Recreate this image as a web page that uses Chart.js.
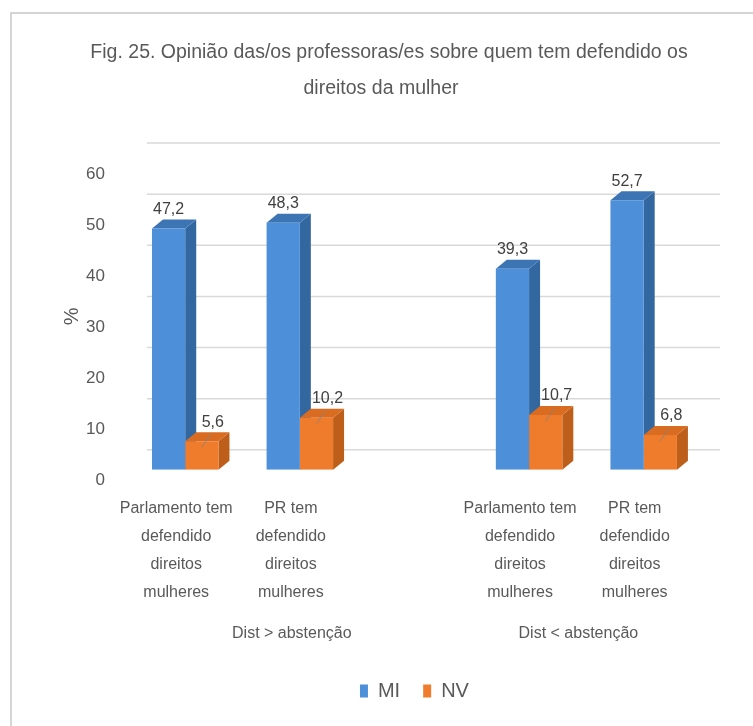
<!DOCTYPE html>
<html>
<head>
<meta charset="utf-8">
<script src="https://cdn.jsdelivr.net/npm/chart.js@4/dist/chart.umd.min.js"></script>
<style>
  html, body { margin: 0; padding: 0; background: #fff; }
</style>
</head>
<body>
<canvas id="chart" width="753" height="726"></canvas>
<script>
const titleLines = ['Fig. 25. Opinião das/os professoras/es sobre quem tem defendido os', 'direitos da mulher']
const categories = [
    ['Parlamento tem', 'defendido', 'direitos', 'mulheres'],
    ['PR tem', 'defendido', 'direitos', 'mulheres'],
    '',
    ['Parlamento tem', 'defendido', 'direitos', 'mulheres'],
    ['PR tem', 'defendido', 'direitos', 'mulheres']
]
const groups = ['Dist > abstenção', 'Dist < abstenção']
const groupPositions = [1, 3.5]
const miValues = [47.2, 48.3, null, 39.3, 52.7]
const nvValues = [5.6, 10.2, null, 10.7, 6.8]
const yTicks = [0, 10, 20, 30, 40, 50, 60]

const FONT = "'Liberation Sans', Arial, sans-serif"
const TEXT = '#595959'
const DX = 11, DY = 9

// side and top colours per dataset
const faces = [
    { side: '#33679f', top: '#3d74b3' },
    { side: '#bd5e1a', top: '#d96c20' }
]

// outer frame + title
const framePlugin = {
    id: 'frame',
    beforeDraw(chart) {
        const ctx = chart.ctx
        ctx.save()
        ctx.strokeStyle = '#c8c8c8'
        ctx.lineWidth = 1.5
        ctx.beginPath()
        ctx.moveTo(11, 726)
        ctx.lineTo(11, 13)
        ctx.lineTo(753, 13)
        ctx.stroke()
        ctx.font = '19.5px ' + FONT
        ctx.fillStyle = TEXT
        ctx.textAlign = 'center'
        ctx.textBaseline = 'middle'
        ctx.fillText(titleLines[0], 389, 53)
        ctx.fillText(titleLines[1], 381, 89)
        ctx.restore()
    }
}

// back wall gridlines and 3D sides/tops of the bars
const depthPlugin = {
    id: 'depth',
    beforeDatasetsDraw(chart) {
        const ctx = chart.ctx
        const y = chart.scales.y
        const area = chart.chartArea
        ctx.save()
        ctx.strokeStyle = '#d9d9d9'
        ctx.lineWidth = 1.5
        yTicks.forEach(function(v) {
            const py = y.getPixelForValue(v) - 20
            ctx.beginPath()
            ctx.moveTo(area.left + 19, py)
            ctx.lineTo(area.right + 19, py)
            ctx.stroke()
        })
        chart.data.datasets.forEach(function(ds, d) {
            const meta = chart.getDatasetMeta(d)
            meta.data.forEach(function(bar, i) {
                if (ds.data[i] == null) return
                const l = bar.x - bar.width / 2
                const r = bar.x + bar.width / 2
                ctx.fillStyle = faces[d].side
                ctx.beginPath()
                ctx.moveTo(r, bar.y)
                ctx.lineTo(r + DX, bar.y - DY)
                ctx.lineTo(r + DX, bar.base - DY)
                ctx.lineTo(r, bar.base)
                ctx.closePath()
                ctx.fill()
                ctx.fillStyle = faces[d].top
                ctx.beginPath()
                ctx.moveTo(l, bar.y)
                ctx.lineTo(l + DX, bar.y - DY)
                ctx.lineTo(r + DX, bar.y - DY)
                ctx.lineTo(r, bar.y)
                ctx.closePath()
                ctx.fill()
            })
        })
        ctx.restore()
    },
    afterDatasetsDraw(chart) {
        const ctx = chart.ctx
        ctx.save()
        ctx.font = '16px ' + FONT
        ctx.fillStyle = '#404040'
        ctx.textAlign = 'center'
        ctx.textBaseline = 'middle'
        chart.data.datasets.forEach(function(ds, d) {
            const meta = chart.getDatasetMeta(d)
            meta.data.forEach(function(bar, i) {
                const v = ds.data[i]
                if (v == null) return
                const txt = v.toFixed(1).replace('.', ',')
                if (d == 0) {
                    ctx.fillText(txt, bar.x, bar.y - 19)
                } else {
                    ctx.strokeStyle = 'rgba(130,130,130,0.8)'
                    ctx.lineWidth = 1
                    ctx.beginPath()
                    ctx.moveTo(bar.x, bar.y + 6)
                    ctx.lineTo(bar.x + 9, bar.y - 7)
                    ctx.stroke()
                    ctx.fillText(txt, bar.x + 11, bar.y - 19)
                }
            })
        })
        ctx.restore()
    }
}

var ctx = document.getElementById('chart')
new Chart(ctx, {
    type: 'bar',
    data: {
        labels: categories,
        datasets: [
            {
                label: 'MI',
                data: miValues,
                backgroundColor: '#4d8fd9',
                borderWidth: 0,
                categoryPercentage: 0.58,
                barPercentage: 1
            },
            {
                label: 'NV',
                data: nvValues,
                backgroundColor: '#ef7c2c',
                borderWidth: 0,
                categoryPercentage: 0.58,
                barPercentage: 1
            }
        ]
    },
    plugins: [framePlugin, depthPlugin],
    options: {
        responsive: false,
        animation: false,
        layout: {
            padding: { top: 163, left: 10, right: 52, bottom: 15 }
        },
        scales: {
            x: {
                type: 'category',
                offset: true,
                weight: 0,
                grid: { display: false },
                border: { display: false },
                ticks: {
                    font: { family: FONT, size: 16, lineHeight: 1.75 },
                    color: TEXT,
                    maxRotation: 0,
                    autoSkip: false,
                    labelOffset: -9,
                    padding: 17
                }
            },
            x2: {
                type: 'linear',
                position: 'bottom',
                weight: 1,
                offset: false,
                min: -0.5,
                max: 4.5,
                grid: { display: false, tickLength: 0 },
                border: { display: false },
                afterBuildTicks: function(s) {
                    s.ticks = groupPositions.map(function(v) { return { value: v } })
                },
                ticks: {
                    font: { family: FONT, size: 16 },
                    color: TEXT,
                    autoSkip: false,
                    maxRotation: 0,
                    labelOffset: -8,
                    padding: 0,
                    callback: function(v) {
                        return groups[groupPositions.indexOf(v)]
                    }
                },
                title: {
                    display: true,
                    text: '',
                    font: { size: 10 },
                    padding: { top: 3, bottom: 0 }
                }
            },
            y: {
                min: 0,
                max: 60,
                grid: { display: false, tickLength: 23 },
                border: { display: false },
                ticks: {
                    stepSize: 10,
                    font: { family: FONT, size: 17 },
                    color: TEXT,
                    padding: 0,
                    labelOffset: 11
                },
                title: {
                    display: true,
                    text: '%',
                    font: { family: FONT, size: 20 },
                    color: TEXT,
                    padding: { top: 50, bottom: 2 }
                }
            }
        },
        plugins: {
            title: { display: false },
            legend: {
                position: 'bottom',
                fullSize: false,
                labels: {
                    boxWidth: 8,
                    boxHeight: 13,
                    font: { family: FONT, size: 20 },
                    color: TEXT,
                    padding: 23
                }
            },
            tooltip: { enabled: false }
        }
    }
})
</script>
</body>
</html>
